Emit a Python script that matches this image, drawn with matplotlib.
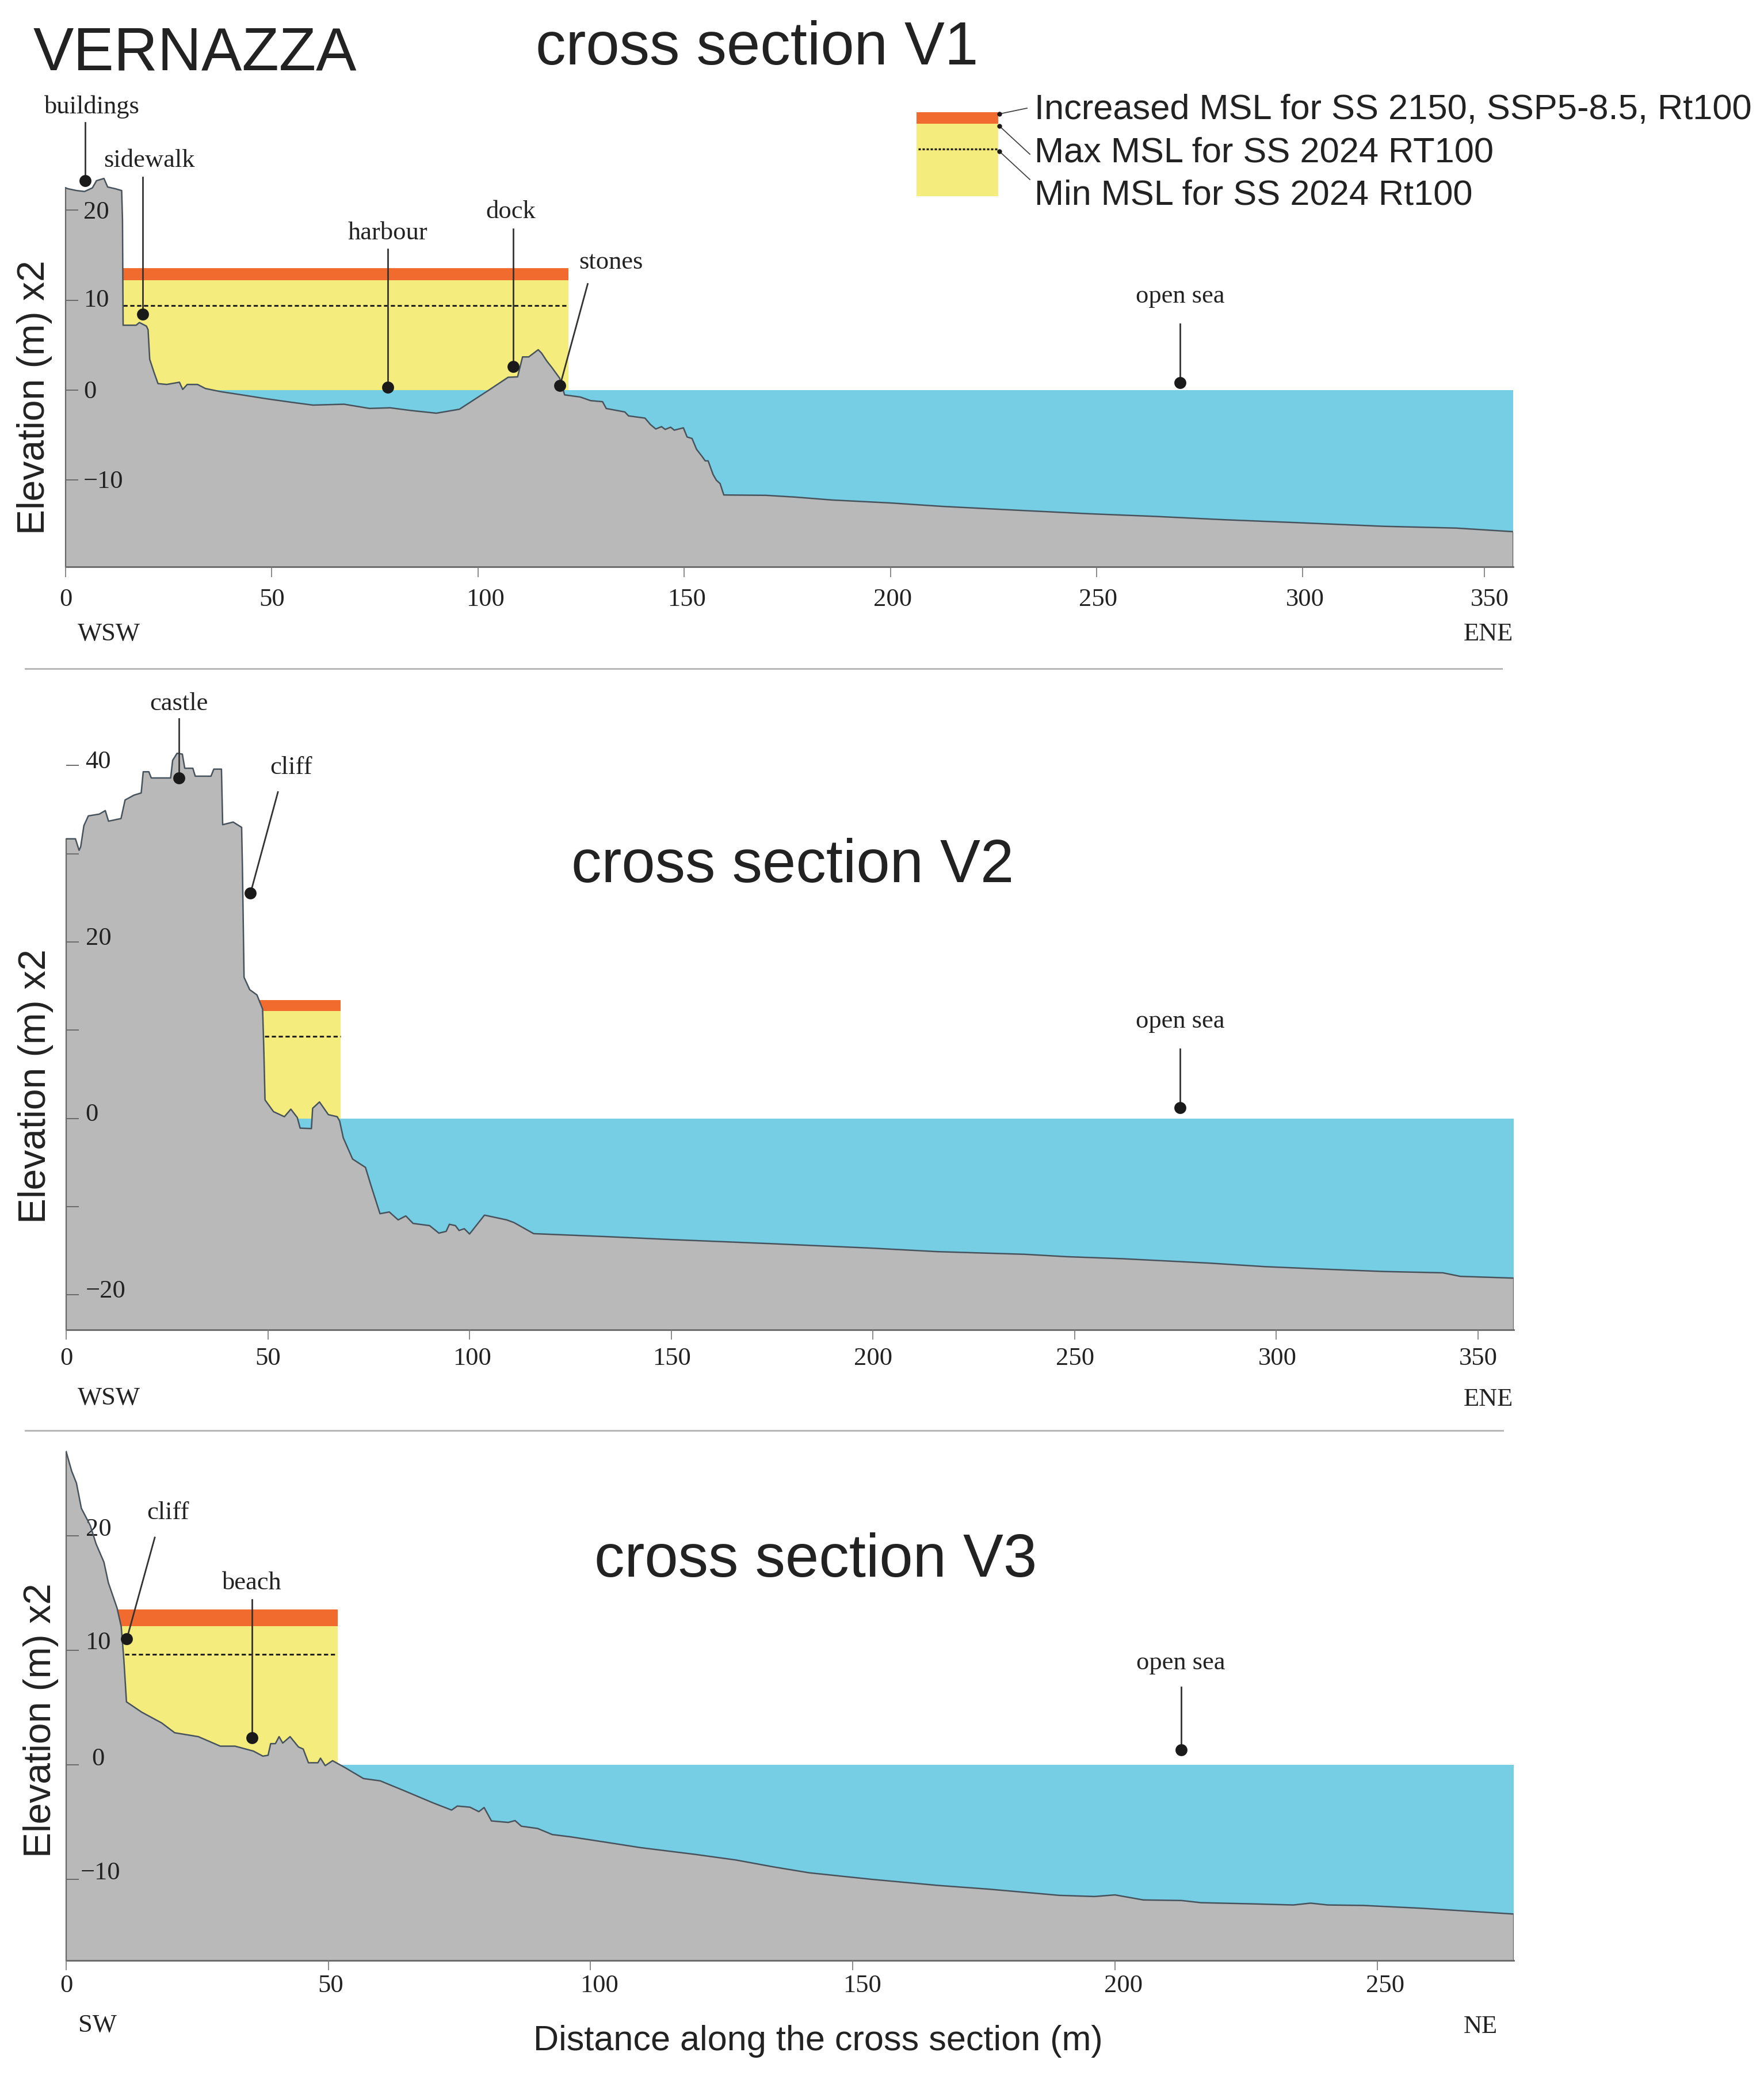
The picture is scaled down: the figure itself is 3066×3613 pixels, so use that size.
import matplotlib
matplotlib.use("Agg")
import matplotlib.pyplot as plt
from matplotlib.transforms import offset_copy

W, H = 3066, 3613
DPI = 100
SERIF = "Liberation Serif"
SANS = "Liberation Sans"
plt.rcParams["font.family"] = SERIF

GREY, BLUE, YELLOW, ORANGE = "#BAB9B9", "#76CEE5", "#F5EC7E", "#F26B2E"
EDGE, AXC, INK = "#47535C", "#666666", "#222222"

# ---- profiles: distance (m), elevation (m x2)
v1_x = [0, 0.6, 2.7, 4.6, 6.5, 7.5, 9.3, 10.2, 12.1, 13.6, 13.8, 13.95, 17.1, 17.9, 19.6, 20, 20.4, 21.4, 22.4, 24.5,
        27.6, 28.4, 29.5, 32, 33.9, 37.6, 42.6, 48.8, 55, 60, 67.5, 73.7, 78.7, 83.7, 89.9, 95.5, 102.4, 107.3, 109.6,
        110.8, 112.3, 114.6, 115.4, 116.7, 117.9, 119.8, 121, 124.8, 127.3, 130.2, 131.1, 135.6, 136.5, 140.5, 141.8,
        143.1, 144.5, 145.4, 146.7, 147.6, 149.8, 150.7, 151.9, 153, 154.3, 155.1, 155.8, 157, 157.8, 158.7, 159.6,
        169.8, 177, 185.8, 200, 212.5, 230.3, 248, 264.3, 281, 298.9, 319.5, 337.2, 351]
v1_z = [22.5, 22.4, 22.2, 22.1, 22.5, 23.3, 23.55, 22.6, 22.4, 22.2, 18.9, 7.2, 7.2, 7.5, 7.1, 6.7, 3.4, 2.0, 0.7, 0.6,
        0.85, 0.05, 0.6, 0.6, 0.15, -0.2, -0.55, -1.0, -1.4, -1.7, -1.6, -2.07, -2.0, -2.3, -2.6, -2.16, -0.1, 1.4, 1.45,
        3.67, 3.67, 4.47, 4.1, 3.2, 2.5, 1.3, -0.56, -0.8, -1.2, -1.32, -2.08, -2.46, -2.9, -3.15, -3.86,
        -4.36, -4.1, -4.41, -4.16, -4.49, -4.23, -5.25, -5.42, -6.63, -7.4, -7.91, -7.91, -9.43, -10.07, -10.44, -11.71,
        -11.75, -11.95, -12.27, -12.6, -12.98, -13.4, -13.8, -14.1, -14.47, -14.8, -15.2, -15.4, -15.8]

v2_x = [0, 2.3, 3.2, 3.6, 4.4, 5.5, 8.2, 9.7, 10.5, 13.6, 14.6, 16.8, 18.6, 19.1, 20.5, 21.1, 25.9, 26.4, 27.5, 28.8,
        29.4, 31.4, 32, 35.9, 36.6, 38.5, 38.8, 41.4, 43.5, 43.7, 44.1, 45.5, 47.3, 48.7, 49, 49.3, 51.4, 54.1, 55.7,
        57.3, 58, 60.8, 61.1, 62.8, 65, 67.2, 67.8, 68.7, 71, 74.2, 75.5, 77.8, 80.1, 82.3, 84.2, 86, 90.1, 92.4, 94.2,
        95, 96.5, 97.4, 98.7, 100, 103.7, 109.2, 111, 115.9, 134.1, 150.5, 175, 199.6, 216, 237.6, 248, 261.8, 283.4,
        297.2, 311, 326.6, 341.3, 345.6, 358.8]
v2_z = [31.7, 31.7, 30.4, 30.8, 33.2, 34.3, 34.5, 34.9, 33.7, 34, 36.1, 36.65, 36.9, 39.3, 39.3, 38.6, 38.6, 40.6, 41.4,
        41.3, 39.7, 39.7, 38.8, 38.8, 39.6, 39.6, 33.3, 33.6, 33, 28.4, 16, 14.6, 14, 12.4, 7.85, 2.1, 0.77, 0.2, 1.05,
        0.1, -1.1, -1.15, 1.15, 1.87, 0.43, 0.2, -0.3, -2.2, -4.6, -5.55, -7.5, -10.8, -10.6, -11.5, -11.05, -11.9, -12.15,
        -13, -12.8, -12, -12.15, -12.7, -12.5, -13.1, -10.96, -11.5, -11.8, -13.06, -13.4, -13.74, -14.2, -14.7, -15.1,
        -15.4, -15.67, -15.9, -16.4, -16.8, -17.07, -17.35, -17.5, -17.9, -18.1]

v3_x = [0, 1.05, 1.96, 2.9, 4.6, 5.7, 7.2, 8.05, 9.7, 10.5, 11, 11.5, 14.4, 18.2, 20.7, 25.2, 29.4, 32.2, 35.7, 37.5,
        38.5, 39, 39.9, 40.6, 41.3, 42.7, 44.3, 45.2, 46.2, 48, 48.5, 49.4, 50.8, 53.2, 56.7, 59.9, 64.4, 70, 73.5, 74.6,
        77, 78.7, 79.7, 81.1, 84.3, 85.6, 86.8, 89.9, 92.7, 96.2, 103.2, 109.5, 119.9, 127.7, 134.7, 141.7, 153.6, 166.2,
        176, 189.4, 196.1, 200, 205.4, 212.7, 216.4, 226, 234, 237.3, 240.6, 247.3, 258.6, 269.1, 276]
v3_z = [27.35, 25.65, 24.6, 22.4, 20.9, 19.3, 17.7, 15.9, 13.7, 12.07, 9.2, 5.5, 4.6, 3.66, 2.8, 2.46, 1.63, 1.63, 1.2, 0.76,
        0.83, 1.85, 1.85, 2.46, 1.9, 2.46, 1.56, 1.38, 0.18, 0.18, 0.58, -0.07, 0.36, -0.25, -1.2, -1.4, -2.25, -3.33, -3.95, -3.6,
        -3.7, -4.09, -3.73, -4.9, -5.03, -4.87, -5.36, -5.56, -6.09, -6.29, -6.78, -7.23, -7.82, -8.31, -8.9, -9.43, -10, -10.53,
        -10.86, -11.4, -11.5, -11.36, -11.8, -11.85, -12.04, -12.14, -12.24, -12.08, -12.24, -12.28, -12.53, -12.83, -13.03]

# ---- sea levels (top of orange, top of yellow, dashed) and their extent
v1_levels = [13.54, 12.18, 9.36]
v2_levels = [13.44, 12.15, 9.28]
v3_levels = [13.59, 12.10, 9.64]

# ---- axis ticks as drawn
v1_xticks = [0, 50, 100, 150, 200, 250, 300, 344]
v1_xlabels = ["0", "50", "100", "150", "200", "250", "300", "350"]
v2_xticks = [0, 50, 100, 150, 200, 250, 300, 350]
v2_xlabels = ["0", "50", "100", "150", "200", "250", "300", "350"]
v3_xticks = [0, 50, 100, 150, 200, 250]
v3_xlabels = ["0", "50", "100", "150", "200", "250"]
v1_yticks = [20, 10, 0, -10]
v1_ylabels = ["20", "10", "0", "\u221210"]
v2_yticks = [40, 30, 20, 10, 0, -10, -20]
v2_ylabels = ["40", "", "20", "", "0", "", "\u221220"]
v3_yticks = [20, 10, 0, -10]
v3_ylabels = ["20", "10", "0", "\u221210"]

# ---- callouts: label, label x, label y, line start x, y, dot x, y
v1_notes = [("buildings", 6.4, 31.5, 4.7, 29.8, 4.7, 23.3),
            ("sidewalk", 20.3, 25.55, 18.7, 23.7, 18.7, 8.4),
            ("harbour", 78.1, 17.45, 78.1, 15.66, 78.1, 0.28),
            ("dock", 108.0, 19.85, 108.5, 17.9, 108.5, 2.6),
            ("stones", 132.2, 14.2, 126.6, 11.8, 119.9, 0.5),
            ("open sea", 270.2, 10.4, 270.2, 7.35, 270.2, 0.77)]
v2_notes = [("castle", 28, 47.0, 28, 45.3, 28, 38.6),
            ("cliff", 55.8, 39.8, 52.5, 37, 45.7, 25.55),
            ("open sea", 276.2, 11.0, 276.2, 7.9, 276.2, 1.2)]
v3_notes = [("cliff", 19.4, 22.0, 16.9, 19.85, 11.55, 10.98),
            ("beach", 35.4, 15.9, 35.4, 14.4, 35.4, 2.36),
            ("open sea", 212.6, 8.9, 212.6, 6.8, 212.6, 1.3)]

fig = plt.figure(figsize=(W / DPI, H / DPI), dpi=DPI, facecolor="white")


def panel(px_left, px_right, px_zero, px_per_unit, zmin, zmax, xmax, x, z, levels, flood, dash, sea_from,
          xticks, xlabels, x_dx, x_drop, yticks, ylabels, y_dx, y_dy, notes, tick_len):
    px_bottom = px_zero - zmin * px_per_unit
    px_top = px_zero - zmax * px_per_unit
    ax = fig.add_axes([px_left / W, 1 - px_bottom / H, (px_right - px_left) / W, (px_bottom - px_top) / H])
    ax.patch.set_alpha(0)
    ax.set_xlim(0, xmax)
    ax.set_ylim(zmin, zmax)
    ax.set_axisbelow(False)
    ax.fill_between([sea_from, xmax], zmin, 0, color=BLUE, lw=0, zorder=1)
    ax.fill_between(flood, 0, levels[1], color=YELLOW, lw=0, zorder=1)
    ax.fill_between(flood, levels[1], levels[0], color=ORANGE, lw=0, zorder=1)
    ax.plot(dash, [levels[2]] * 2, color=INK, lw=2.2, ls=(0, (2.4, 1.5)), zorder=1.5)
    ax.fill_between(x, zmin, z, color=GREY, lw=0, zorder=2)
    ax.plot(x, z, color=EDGE, lw=1.8, zorder=3, solid_joinstyle="round")
    ax.plot([x[-1], x[-1]], [zmin, z[-1]], color=AXC, lw=1.6, zorder=3)
    for s in ("top", "right"):
        ax.spines[s].set_visible(False)
    ax.spines["bottom"].set_color(AXC)
    ax.spines["bottom"].set_linewidth(2.0)
    ax.spines["left"].set_color(AXC)
    ax.spines["left"].set_linewidth(1.6)
    ax.spines["left"].set_bounds(zmin, z[0])
    ax.set_xticks(xticks, xlabels)
    ax.set_yticks(yticks, ylabels)
    ax.tick_params(axis="x", direction="out", length=tick_len, width=1.2, color="#777777", labelsize=32, labelcolor=INK)
    ax.tick_params(axis="y", direction="in", length=16, width=1.4, color="#6A6A6A", labelsize=32, labelcolor=INK)
    for lab, d in zip(ax.get_xticklabels(), x_dx):
        lab.set_transform(offset_copy(ax.get_xaxis_transform(), fig=fig, x=d, y=-x_drop, units="dots"))
        lab.set_ha("center")
        lab.set_va("center")
    for lab, d, e in zip(ax.get_yticklabels(), y_dx, y_dy):
        lab.set_transform(offset_copy(ax.get_yaxis_transform(), fig=fig, x=d, y=e, units="dots"))
        lab.set_ha("left")
        lab.set_va("center")
    for name, lx, ly, sx, sy, dx, dy in notes:
        ax.text(lx, ly, name, ha="center", va="center", fontsize=32, color=INK, zorder=5, clip_on=False)
        ax.plot([sx, dx], [sy, dy], color="#333333", lw=2.0, zorder=4, clip_on=False)
        ax.plot([dx], [dy], "o", color="#1A1A1A", ms=15, mew=0, zorder=4.5, clip_on=False)
    return ax


panel(114, 2630, 677.5, 15.6, -19.74, 33, 351, v1_x, v1_z, v1_levels, [13.95, 121.9], [13.95, 121.9], 30,
      v1_xticks, v1_xlabels, [0, 0, 13, 4, 4, 3, 4, 9], 57, v1_yticks, v1_ylabels, [31] * 4, [-3, 0, -3, -3], v1_notes, 13)
panel(115, 2630.6, 1943.7, 15.33, -23.96, 48, 358.8, v2_x, v2_z, v2_levels, [46, 68.1], [49.2, 68.1], 55,
      v2_xticks, v2_xlabels, [0, 0, 4, 1, 0, 1, 2, 0], 50, v2_yticks, v2_ylabels, [33.6] * 7, [6.5] * 7, v2_notes, 12)
panel(115, 2630.6, 3067, 19.9, -17.09, 28, 276, v3_x, v3_z, v3_levels, [9, 51.8], [11.2, 51.5], 50,
      v3_xticks, v3_xlabels, [0, 4, 15, 16, 15, 14], 44, v3_yticks, v3_ylabels, [33.6, 33.6, 44, 25], [11, 13, 10, 11], v3_notes, 12)

# ---- overlay in figure pixels for the headings, separators and the key
ov = fig.add_axes([0, 0, 1, 1], zorder=10)
ov.set_xlim(0, W)
ov.set_ylim(H, 0)
ov.axis("off")
ov.patch.set_alpha(0)

ov.plot([44, 2610], [1162, 1162], color="#B8B8B8", lw=2.2)
ov.plot([44, 2612], [2486, 2486], color="#B8B8B8", lw=2.2)

ov.text(58, 121, "VERNAZZA", family=SANS, fontsize=76, color=INK, ha="left", va="baseline")
for txt, tx, ty in [("cross section V1", 931, 112), ("cross section V2", 993, 1533), ("cross section V3", 1033, 2740)]:
    ov.text(tx, ty, txt, family=SANS, fontsize=75.5, color=INK, ha="left", va="baseline")
for yx, yy in [(60, 691), (62, 1888), (71, 2990)]:
    ov.text(yx, yy, "Elevation (m) x2", family=SANS, fontsize=47.5, color=INK, rotation=90, ha="center", va="center")
ov.text(1422, 3547, "Distance along the cross section (m)", family=SANS, fontsize=44, color=INK, ha="center", va="center")

for txt, tx, ty in [("WSW", 189, 1102), ("ENE", 2587, 1102), ("WSW", 189, 2430), ("ENE", 2587, 2432),
                    ("SW", 169, 3520), ("NE", 2573, 3522)]:
    ov.text(tx, ty, txt, fontsize=32, color=INK, ha="center", va="center")

# key swatch
ov.fill_between([1593, 1735], 195, 215, color=ORANGE, lw=0)
ov.fill_between([1593, 1735], 215, 341, color=YELLOW, lw=0)
ov.plot([1596, 1733], [259, 259], color=INK, lw=2.4, ls=(0, (1.2, 0.9)))
for (dx, dy), (ex, ey) in zip([(1737, 198), (1737, 219), (1737, 263)], [(1785, 188), (1790, 268), (1790, 312)]):
    ov.plot([dx, ex], [dy, ey], color="#444444", lw=1.3)
    ov.plot([dx], [dy], "o", color="#1A1A1A", ms=6, mew=0)
for txt, ty in [("Increased MSL for SS 2150, SSP5-8.5, Rt100", 207), ("Max MSL for SS 2024 RT100", 281),
                ("Min MSL for SS 2024 Rt100", 355)]:
    ov.text(1798, ty, txt, family=SANS, fontsize=44.2, color=INK, ha="left", va="baseline")

fig.savefig("out.png", dpi=DPI, facecolor="white")
